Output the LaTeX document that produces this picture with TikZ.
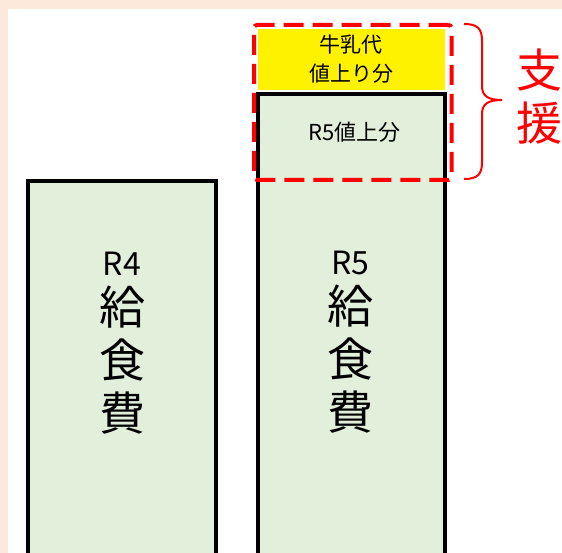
\documentclass[tikz,border=0pt]{standalone}
\usepackage{fontspec}
\setmainfont{Noto Sans CJK JP}
\usetikzlibrary{calc,positioning}
\definecolor{peach}{RGB}{252,233,219}
\definecolor{barfill}{RGB}{226,239,218}
\definecolor{supportred}{RGB}{255,0,0}

\begin{document}
\begin{tikzpicture}[x=1pt,y=-1pt,
            bar/.style={draw=black,line width=4pt,fill=barfill,minimum height=520pt,anchor=north,inner sep=0pt},
            milk/.style={fill=yellow,minimum width=187pt,minimum height=61pt,anchor=south,align=center,inner sep=0pt,font={\fontsize{21}{29}\selectfont}},
            rise/.style={font={\fontsize{22}{25}\selectfont},inner sep=0pt},
            column/.style={anchor=north,align=center,inner sep=0pt,font={\fontsize{46}{53}\selectfont}},
            dashbox/.style={draw=supportred,line width=4pt,dash pattern=on 20pt off 9pt,rounded corners=3pt,minimum width=197.5pt,minimum height=155pt,anchor=north west,inner sep=0pt},
            bracket/.style={draw=supportred,line width=2pt},
            supportlabel/.style={text=supportred,align=center,inner sep=0pt,font={\fontsize{46}{53}\selectfont}}]
            \useasboundingbox (0,0) rectangle (562,553);
            \fill[peach] (0,0) rectangle (562,553);
            \fill[white] (7.5,9) rectangle (562,553);

            \node[bar,minimum width=188pt] (r4bar) at (122,179.5) {};
            \node[bar,minimum width=186.5pt] (r5bar) at (351.25,92) {};

            \node[milk] (milk) at ($ (r5bar.north) + (0,-2) $) {
                牛乳代\\値上り分
            };

            \node[rise] (rise) at ($ (r5bar.north) + (3,40) $) {R5値上分};

            \node[column] (r4text) at ($ (r4bar.north) + (0,72) $) {
                {\fontsize{32}{38}\selectfont R4}\\[-4pt]
                給\\食\\費
            };
            \node[column] (r5text) at ($ (r5bar.north) + (-1,159) $) {
                {\fontsize{32}{38}\selectfont R5}\\[-4pt]
                給\\食\\費
            };

            % support
            \node[dashbox] (support) at (252,23) {};

            \coordinate (bracetip) at ($ (support.north east) + (48.5,77) $);
            \draw[bracket] ($ (support.north east) + (10.5,1) $)
                .. controls +(14,0) and +(0,-12) .. ++(18,17)
                -- ($ (bracetip) + (-20,-14) $)
                .. controls +(0,10) and +(-14,0) .. (bracetip)
                .. controls +(-14,0) and +(0,-10) .. ($ (bracetip) + (-20,14) $)
                -- ($ (support.south east) + (28.5,-20) $)
                .. controls +(0,12) and +(14,0) .. ++(-18,17);

            \node[supportlabel,anchor=west] (supporttext) at ($ (bracetip) + (14,-3) $) {支\\援};
        \end{tikzpicture}
\end{document}
